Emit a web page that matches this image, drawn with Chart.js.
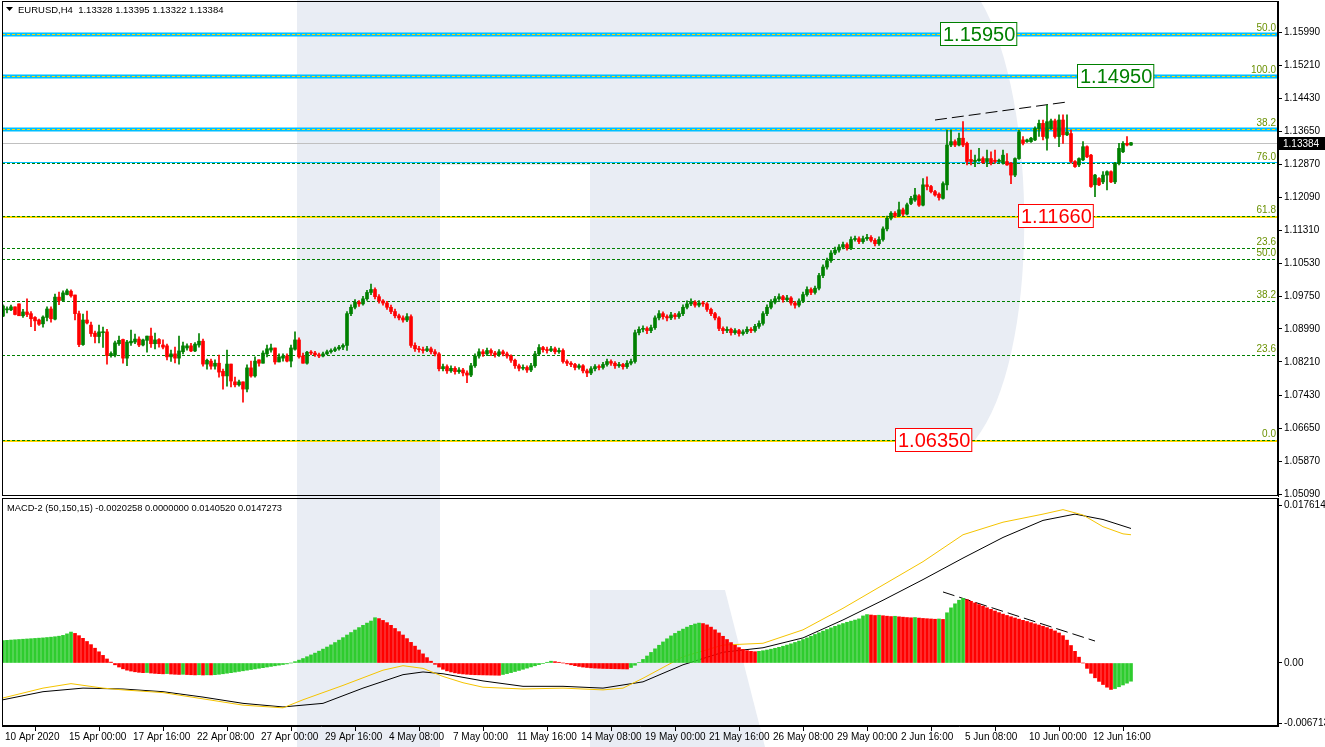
<!DOCTYPE html>
<html>
<head>
<meta charset="utf-8">
<script src="https://cdn.jsdelivr.net/npm/chart.js@4.4.1/dist/chart.umd.min.js"></script>
<style>
  body { margin: 0; background: #fff; width: 1325px; height: 747px; overflow: hidden; position: relative; }
  #main { position: absolute; left: 0; top: 0; }
  #macd { position: absolute; left: 0; top: 497px; }
</style>
</head>
<body>
<canvas id="main" width="1325" height="497"></canvas>
<canvas id="macd" width="1325" height="250"></canvas>
<script>
// EURUSD H4 candles, [open, high, low, close], one per bar
const ohlc = [
  [1.0929,1.0956,1.0928,1.0953],[1.0944,1.0951,1.0937,1.0946],[1.0944,1.0955,1.0942,1.0951],[1.0951,1.0951,1.0932,1.0933],
  [1.0958,1.0958,1.0930,1.0930],[1.0930,1.0945,1.0926,1.0939],[1.0939,1.0970,1.0928,1.0933],[1.0935,1.0940,1.0904,1.0923],
  [1.0926,1.0928,1.0895,1.0918],[1.0920,1.0922,1.0907,1.0910],[1.0911,1.0930,1.0903,1.0927],[1.0926,1.0951,1.0918,1.0946],
  [1.0946,1.0951,1.0915,1.0923],[1.0922,1.0981,1.0920,1.0974],[1.0974,1.0986,1.0956,1.0966],[1.0966,1.0989,1.0966,1.0984],
  [1.0980,1.0993,1.0979,1.0989],[1.0988,1.0991,1.0974,1.0977],[1.0979,1.0979,1.0920,1.0935],[1.0935,1.0941,1.0857,1.0862],
  [1.0862,1.0934,1.0860,1.0920],[1.0920,1.0941,1.0911,1.0913],[1.0908,1.0915,1.0881,1.0888],[1.0889,1.0894,1.0866,1.0881],
  [1.0881,1.0908,1.0866,1.0892],[1.0890,1.0903,1.0855,1.0892],[1.0892,1.0898,1.0816,1.0836],[1.0836,1.0845,1.0832,1.0841],
  [1.0837,1.0870,1.0833,1.0866],[1.0864,1.0882,1.0860,1.0872],[1.0874,1.0875,1.0818,1.0830],[1.0830,1.0872,1.0812,1.0868],
  [1.0866,1.0896,1.0860,1.0870],[1.0868,1.0887,1.0864,1.0875],[1.0875,1.0880,1.0857,1.0861],[1.0861,1.0875,1.0859,1.0873],
  [1.0872,1.0882,1.0844,1.0882],[1.0882,1.0901,1.0855,1.0864],[1.0864,1.0889,1.0852,1.0873],[1.0874,1.0876,1.0856,1.0864],
  [1.0861,1.0873,1.0852,1.0856],[1.0859,1.0863,1.0826,1.0833],[1.0833,1.0849,1.0822,1.0840],[1.0840,1.0856,1.0819,1.0830],
  [1.0830,1.0882,1.0816,1.0847],[1.0845,1.0868,1.0840,1.0859],[1.0854,1.0864,1.0849,1.0859],[1.0859,1.0865,1.0845,1.0847],
  [1.0847,1.0867,1.0845,1.0863],[1.0861,1.0888,1.0856,1.0870],[1.0870,1.0875,1.0811,1.0816],[1.0816,1.0828,1.0804,1.0825],
  [1.0823,1.0828,1.0804,1.0811],[1.0811,1.0826,1.0804,1.0818],[1.0818,1.0837,1.0785,1.0797],[1.0799,1.0804,1.0757,1.0788],
  [1.0788,1.0849,1.0764,1.0816],[1.0816,1.0816,1.0762,1.0776],[1.0774,1.0785,1.0762,1.0767],[1.0767,1.0778,1.0764,1.0774],
  [1.0774,1.0774,1.0726,1.0757],[1.0757,1.0814,1.0750,1.0807],[1.0807,1.0823,1.0785,1.0788],[1.0788,1.0833,1.0785,1.0823],
  [1.0826,1.0826,1.0811,1.0818],[1.0818,1.0847,1.0818,1.0842],[1.0840,1.0861,1.0833,1.0852],[1.0849,1.0863,1.0844,1.0854],
  [1.0854,1.0854,1.0816,1.0821],[1.0821,1.0840,1.0821,1.0833],[1.0830,1.0840,1.0823,1.0835],[1.0835,1.0840,1.0821,1.0823],
  [1.0823,1.0861,1.0809,1.0854],[1.0851,1.0892,1.0849,1.0873],[1.0873,1.0878,1.0830,1.0833],[1.0835,1.0842,1.0818,1.0818],
  [1.0818,1.0846,1.0816,1.0844],[1.0844,1.0848,1.0838,1.0842],[1.0842,1.0846,1.0834,1.0838],[1.0838,1.0842,1.0831,1.0835],
  [1.0835,1.0844,1.0833,1.0840],[1.0840,1.0849,1.0838,1.0845],[1.0845,1.0852,1.0842,1.0848],[1.0848,1.0856,1.0845,1.0852],
  [1.0852,1.0860,1.0849,1.0856],[1.0856,1.0864,1.0850,1.0860],[1.0860,1.0940,1.0848,1.0935],[1.0935,1.0956,1.0930,1.0950],
  [1.0950,1.0968,1.0946,1.0962],[1.0962,1.0966,1.0952,1.0958],[1.0958,1.0976,1.0955,1.0970],[1.0970,1.0990,1.0966,1.0985],
  [1.0985,1.1005,1.0980,1.0992],[1.0992,1.0996,1.0970,1.0975],[1.0975,1.0980,1.0960,1.0965],[1.0965,1.0968,1.0955,1.0960],
  [1.0960,1.0964,1.0945,1.0950],[1.0950,1.0955,1.0935,1.0940],[1.0940,1.0946,1.0925,1.0930],[1.0930,1.0934,1.0920,1.0925],
  [1.0925,1.0930,1.0915,1.0920],[1.0920,1.0935,1.0916,1.0928],[1.0928,1.0932,1.0855,1.0860],[1.0860,1.0866,1.0846,1.0852],
  [1.0852,1.0858,1.0844,1.0850],[1.0850,1.0856,1.0842,1.0848],[1.0848,1.0858,1.0845,1.0852],[1.0852,1.0856,1.0840,1.0845],
  [1.0845,1.0850,1.0835,1.0840],[1.0840,1.0843,1.0800,1.0805],[1.0805,1.0816,1.0800,1.0810],[1.0810,1.0814,1.0794,1.0800],
  [1.0800,1.0812,1.0796,1.0806],[1.0806,1.0810,1.0792,1.0798],[1.0798,1.0808,1.0794,1.0802],[1.0802,1.0806,1.0788,1.0795],
  [1.0795,1.0800,1.0772,1.0790],[1.0790,1.0818,1.0786,1.0812],[1.0812,1.0840,1.0808,1.0835],[1.0835,1.0852,1.0830,1.0845],
  [1.0845,1.0850,1.0834,1.0840],[1.0840,1.0854,1.0836,1.0848],[1.0848,1.0852,1.0836,1.0842],[1.0842,1.0846,1.0832,1.0838],
  [1.0838,1.0850,1.0834,1.0845],[1.0845,1.0849,1.0835,1.0840],[1.0840,1.0844,1.0830,1.0835],[1.0835,1.0838,1.0820,1.0825],
  [1.0825,1.0828,1.0806,1.0812],[1.0812,1.0816,1.0800,1.0806],[1.0806,1.0814,1.0802,1.0808],[1.0808,1.0812,1.0796,1.0802],
  [1.0802,1.0818,1.0798,1.0812],[1.0812,1.0846,1.0808,1.0840],[1.0840,1.0862,1.0836,1.0855],[1.0855,1.0858,1.0844,1.0850],
  [1.0850,1.0856,1.0842,1.0848],[1.0848,1.0858,1.0845,1.0852],[1.0852,1.0856,1.0840,1.0845],[1.0845,1.0854,1.0841,1.0848],
  [1.0848,1.0852,1.0818,1.0822],[1.0822,1.0826,1.0812,1.0818],[1.0818,1.0822,1.0810,1.0815],[1.0815,1.0818,1.0802,1.0808],
  [1.0808,1.0816,1.0804,1.0812],[1.0812,1.0815,1.0795,1.0800],[1.0800,1.0804,1.0786,1.0795],[1.0795,1.0810,1.0791,1.0805],
  [1.0805,1.0815,1.0800,1.0810],[1.0810,1.0814,1.0802,1.0808],[1.0808,1.0820,1.0804,1.0815],[1.0815,1.0828,1.0811,1.0822],
  [1.0822,1.0826,1.0813,1.0818],[1.0818,1.0822,1.0806,1.0812],[1.0812,1.0820,1.0808,1.0815],[1.0815,1.0818,1.0804,1.0810],
  [1.0810,1.0824,1.0806,1.0818],[1.0818,1.0828,1.0814,1.0822],[1.0822,1.0896,1.0818,1.0890],[1.0890,1.0904,1.0885,1.0898],
  [1.0898,1.0906,1.0892,1.0900],[1.0900,1.0904,1.0888,1.0895],[1.0895,1.0908,1.0890,1.0902],[1.0902,1.0930,1.0898,1.0925],
  [1.0925,1.0942,1.0920,1.0935],[1.0935,1.0939,1.0922,1.0928],[1.0928,1.0932,1.0918,1.0925],[1.0925,1.0938,1.0921,1.0932],
  [1.0932,1.0936,1.0922,1.0928],[1.0928,1.0940,1.0924,1.0935],[1.0935,1.0956,1.0930,1.0950],[1.0950,1.0965,1.0946,1.0958],
  [1.0958,1.0970,1.0954,1.0962],[1.0962,1.0966,1.0950,1.0955],[1.0955,1.0966,1.0951,1.0960],[1.0960,1.0964,1.0952,1.0958],
  [1.0958,1.0961,1.0940,1.0945],[1.0945,1.0948,1.0930,1.0935],[1.0935,1.0938,1.0920,1.0925],[1.0925,1.0928,1.0895,1.0900],
  [1.0900,1.0904,1.0888,1.0895],[1.0895,1.0904,1.0890,1.0898],[1.0898,1.0901,1.0884,1.0890],[1.0890,1.0900,1.0886,1.0895],
  [1.0895,1.0898,1.0882,1.0888],[1.0888,1.0897,1.0884,1.0892],[1.0892,1.0904,1.0888,1.0898],[1.0898,1.0902,1.0890,1.0895],
  [1.0895,1.0910,1.0891,1.0905],[1.0905,1.0918,1.0900,1.0912],[1.0912,1.0940,1.0908,1.0935],[1.0935,1.0956,1.0930,1.0950],
  [1.0950,1.0968,1.0946,1.0962],[1.0962,1.0976,1.0958,1.0970],[1.0970,1.0982,1.0966,1.0975],[1.0975,1.0978,1.0962,1.0968],
  [1.0968,1.0978,1.0964,1.0972],[1.0972,1.0975,1.0955,1.0960],[1.0960,1.0964,1.0948,1.0955],[1.0955,1.0970,1.0951,1.0965],
  [1.0965,1.0986,1.0961,1.0980],[1.0980,1.0998,1.0976,1.0992],[1.0992,1.0996,1.0980,1.0985],[1.0985,1.1000,1.0981,1.0995],
  [1.0995,1.1030,1.0991,1.1025],[1.1025,1.1050,1.1020,1.1045],[1.1045,1.1066,1.1040,1.1060],[1.1060,1.1084,1.1056,1.1078],
  [1.1078,1.1092,1.1074,1.1085],[1.1085,1.1098,1.1080,1.1092],[1.1092,1.1104,1.1088,1.1098],[1.1098,1.1102,1.1085,1.1090],
  [1.1090,1.1116,1.1086,1.1110],[1.1110,1.1118,1.1106,1.1112],[1.1112,1.1116,1.1100,1.1105],[1.1105,1.1118,1.1101,1.1112],
  [1.1112,1.1122,1.1108,1.1115],[1.1115,1.1119,1.1104,1.1108],[1.1108,1.1112,1.1095,1.1100],[1.1100,1.1116,1.1096,1.1110],
  [1.1110,1.1140,1.1106,1.1135],[1.1135,1.1165,1.1130,1.1160],[1.1160,1.1176,1.1156,1.1172],[1.1172,1.1176,1.1162,1.1166],
  [1.1166,1.1198,1.1164,1.1180],[1.1180,1.1184,1.1166,1.1170],[1.1170,1.1196,1.1168,1.1192],[1.1195,1.1212,1.1192,1.1207],
  [1.1203,1.1231,1.1200,1.1215],[1.1213,1.1216,1.1188,1.1191],[1.1191,1.1254,1.1189,1.1239],[1.1239,1.1258,1.1227,1.1235],
  [1.1235,1.1238,1.1220,1.1223],[1.1223,1.1226,1.1212,1.1215],[1.1217,1.1220,1.1203,1.1209],[1.1207,1.1246,1.1205,1.1242],
  [1.1239,1.1368,1.1227,1.1333],[1.1333,1.1368,1.1329,1.1341],[1.1341,1.1345,1.1329,1.1333],[1.1333,1.1361,1.1331,1.1349],
  [1.1349,1.1388,1.1329,1.1333],[1.1337,1.1340,1.1286,1.1294],[1.1299,1.1321,1.1286,1.1294],[1.1294,1.1309,1.1282,1.1297],
  [1.1296,1.1325,1.1294,1.1300],[1.1301,1.1305,1.1290,1.1291],[1.1294,1.1321,1.1282,1.1301],[1.1301,1.1317,1.1286,1.1291],
  [1.1297,1.1321,1.1290,1.1294],[1.1294,1.1300,1.1292,1.1297],[1.1290,1.1321,1.1288,1.1309],[1.1294,1.1313,1.1285,1.1286],
  [1.1290,1.1292,1.1242,1.1262],[1.1262,1.1303,1.1258,1.1301],[1.1301,1.1368,1.1299,1.1364],[1.1345,1.1353,1.1333,1.1337],
  [1.1341,1.1347,1.1339,1.1345],[1.1341,1.1351,1.1339,1.1349],[1.1345,1.1376,1.1343,1.1372],[1.1372,1.1392,1.1353,1.1384],
  [1.1384,1.1392,1.1345,1.1353],[1.1349,1.1427,1.1321,1.1388],[1.1372,1.1394,1.1370,1.1390],[1.1390,1.1394,1.1349,1.1353],
  [1.1353,1.1404,1.1329,1.1392],[1.1392,1.1404,1.1337,1.1357],[1.1357,1.1404,1.1355,1.1364],[1.1360,1.1368,1.1290,1.1294],
  [1.1294,1.1296,1.1280,1.1282],[1.1286,1.1303,1.1282,1.1301],[1.1298,1.1341,1.1296,1.1329],[1.1329,1.1331,1.1303,1.1305],
  [1.1309,1.1311,1.1233,1.1235],[1.1239,1.1264,1.1211,1.1262],[1.1254,1.1256,1.1237,1.1239],[1.1246,1.1270,1.1242,1.1262],
  [1.1262,1.1272,1.1227,1.1270],[1.1270,1.1272,1.1244,1.1246],[1.1246,1.1292,1.1242,1.1290],[1.1290,1.1337,1.1286,1.1325],
  [1.1317,1.1341,1.1315,1.1337],[1.1337,1.1353,1.1331,1.1333],[1.13328,1.13395,1.13322,1.13384]
];

// MACD-2 histogram, one value per bar
const histValues = [
  0.00250,0.00253,0.00256,0.00259,0.00262,0.00265,0.00268,0.00271,0.00274,0.00277,
  0.00280,0.00284,0.00288,0.00293,0.00299,0.00308,0.00325,0.00345,
  0.00330,0.00305,0.00275,0.00240,0.00205,0.00165,0.00125,0.00085,0.00045,0.00010,-0.00020,-0.00045,-0.00065,
  -0.00080,-0.00090,-0.00098,-0.00104,-0.00108,-0.00106,-0.00112,-0.00116,-0.00119,-0.00121,
  -0.00118,-0.00123,-0.00126,-0.00128,-0.00126,-0.00129,-0.00131,-0.00133,-0.00131,-0.00134,
  -0.00132,-0.00133,-0.00130,-0.00126,-0.00120,
  -0.00114,-0.00108,-0.00101,-0.00094,-0.00087,-0.00080,-0.00073,-0.00066,-0.00059,-0.00052,
  -0.00045,-0.00038,-0.00031,-0.00024,-0.00017,-0.00010,
  0.00000,0.00015,0.00032,0.00050,0.00070,0.00090,0.00110,0.00132,0.00155,0.00178,
  0.00202,0.00228,0.00255,0.00283,0.00312,0.00340,0.00368,0.00395,0.00420,0.00445,0.00468,0.00505,
  0.00495,0.00475,0.00450,0.00420,0.00385,0.00350,0.00312,0.00272,0.00230,0.00188,
  0.00145,0.00102,0.00060,0.00020,-0.00015,-0.00045,-0.00070,-0.00088,-0.00100,-0.00110,
  -0.00117,-0.00122,-0.00126,-0.00129,-0.00131,-0.00132,-0.00133,-0.00134,-0.00135,-0.00136,-0.00137,
  -0.00128,-0.00118,-0.00107,-0.00095,-0.00083,-0.00070,-0.00057,-0.00044,-0.00031,-0.00018,-0.00005,0.00008,0.00020,
  0.00015,0.00008,0.00000,-0.00010,-0.00020,-0.00030,-0.00038,-0.00045,-0.00050,-0.00054,
  -0.00057,-0.00059,-0.00061,-0.00062,-0.00063,-0.00064,-0.00065,-0.00066,-0.00067,
  -0.00050,-0.00025,0.00005,0.00040,0.00078,0.00118,0.00158,0.00198,0.00235,0.00270,
  0.00302,0.00330,0.00355,0.00378,0.00400,0.00420,0.00435,0.00445,
  0.00440,0.00425,0.00400,0.00370,0.00335,0.00298,0.00262,0.00228,0.00198,0.00172,0.00152,0.00138,0.00130,0.00126,
  0.00130,0.00137,0.00145,0.00154,0.00164,0.00175,0.00187,0.00200,0.00214,0.00229,
  0.00245,0.00262,0.00280,0.00299,0.00318,0.00337,0.00356,0.00374,0.00392,0.00409,
  0.00425,0.00440,0.00454,0.00467,0.00479,0.00492,0.00525,0.00540,
  0.00535,0.00530,0.00533,0.00527,0.00522,0.00518,0.00521,0.00515,0.00511,0.00507,
  0.00504,0.00507,0.00501,0.00497,0.00494,0.00491,0.00488,0.00491,0.00486,
  0.00560,0.00615,0.00660,0.00700,0.00720,
  0.00705,0.00688,0.00670,0.00652,0.00634,0.00616,0.00598,0.00580,0.00562,0.00545,
  0.00530,0.00516,0.00502,0.00489,0.00476,0.00463,0.00450,0.00437,0.00424,0.00410,
  0.00395,0.00378,0.00358,0.00335,0.00305,0.00255,0.00195,0.00130,0.00065,0.00000,
  -0.00060,-0.00115,-0.00165,-0.00205,-0.00240,-0.00270,-0.00295,
  -0.00285,-0.00265,-0.00245,-0.00225,-0.00203
];

// MACD-2 lines, [bar, value]
const macdLine = [[0,-0.0041],[10,-0.0032],[20,-0.0028],[30,-0.0029],[40,-0.0032],[50,-0.0038],[60,-0.0045],[70,-0.0049],
  [80,-0.0045],[90,-0.0028],[100,-0.0013],[105,-0.0010],[110,-0.0012],[120,-0.0020],[130,-0.0026],[140,-0.0026],[150,-0.0028],
  [160,-0.0021],[170,-0.0002],[180,0.0012],[190,0.0017],[200,0.0028],[210,0.0048],[220,0.0070],[230,0.0093],[240,0.0117],
  [250,0.0140],[260,0.0159],[268,0.0166],[275,0.0160],[282,0.0150]];
const signalLine = [[0,-0.0039],[10,-0.0028],[17,-0.0023],[25,-0.0028],[30,-0.0030],[40,-0.0033],[50,-0.0040],[60,-0.0047],
  [70,-0.0050],[75,-0.0041],[85,-0.0025],[95,-0.0008],[100,-0.0003],[105,-0.0006],[110,-0.0015],[115,-0.0022],[120,-0.0027],
  [130,-0.0029],[140,-0.0028],[150,-0.0030],[155,-0.0028],[160,-0.0017],[170,0.0007],[180,0.0020],[190,0.0022],[200,0.0037],
  [210,0.0061],[220,0.0087],[230,0.0113],[240,0.0143],[250,0.0157],[260,0.0166],[265,0.0171],[270,0.0165],[275,0.0152],
  [280,0.0144],[282,0.0143]];

// time axis
const tickBars = [0,16,32,48,64,80,96,112,128,144,160,176,192,208,224,240,256,272];
const tickLabels = ['10 Apr 2020','15 Apr 00:00','17 Apr 16:00','22 Apr 08:00','27 Apr 00:00','29 Apr 16:00',
  '4 May 08:00','7 May 00:00','11 May 16:00','14 May 08:00','19 May 00:00','21 May 16:00','26 May 08:00',
  '29 May 00:00','2 Jun 16:00','5 Jun 08:00','10 Jun 00:00','12 Jun 16:00'];

// price axis
const priceTicks = [1.15990,1.15210,1.14430,1.13650,1.12870,1.12090,1.11310,1.10530,1.09750,1.08990,1.08210,1.07430,1.06650,1.05870,1.05090];
const macdTicks = [0.017614, 0, -0.006713];
const macdTickLabels = ['0.017614', '0.00', '-0.006713'];

// fibonacci levels and horizontal lines
const fibValues = [1.1595, 1.1495, 1.1370, 1.1290, 1.1166, 1.1090, 1.1065, 1.0964, 1.0838, 1.0636];
const fibNames  = ['50.0', '100.0', '38.2', '76.0', '61.8', '23.6', '50.0', '38.2', '23.6', '0.0'];
const blueLevels = [1.1595, 1.1495, 1.1370];
const thinBlueLevels = [1.1290];
const yellowLevels = [1.1166, 1.0636];
const boxValues = [1.1595, 1.1495, 1.1166, 1.0636];
const boxTexts = ['1.15950', '1.14950', '1.11660', '1.06350'];
const boxBars = [234.25, 268.5, 253.75, 223];
const priceTrend = [[233, 1.1392], [266, 1.14345]];
const macdTrend = [[235, 0.00792], [273, 0.00245]];
const lastPrice = 1.13384;

const UP = '#008000', DOWN = '#ff0000';
const HIST_UP = '#2ecc2e', HIST_DOWN = '#ff0000';
const FONT = '"Liberation Sans", Arial, sans-serif';

Chart.defaults.font.family = FONT;
Chart.defaults.font.size = 10;
Chart.defaults.color = '#000';

const candleColors = ohlc.map(d => d[3] >= d[0] ? UP : DOWN);
const histColors = histValues.map((v, i) => (i > 0 && v < histValues[i - 1]) ? HIST_DOWN : HIST_UP);

// light "R" logo behind both panels, page coordinates
function drawLogo(ctx, offsetY) {
  ctx.save();
  ctx.translate(0, -offsetY);
  ctx.fillStyle = '#e9edf4';
  ctx.fillRect(297, 0, 143, 747);
  ctx.beginPath();
  ctx.moveTo(440, 0);
  ctx.lineTo(980, 0);
  ctx.bezierCurveTo(1040, 100, 1040, 360, 975, 440);
  ctx.lineTo(590, 440);
  ctx.lineTo(590, 165);
  ctx.lineTo(440, 165);
  ctx.closePath();
  ctx.fill();
  ctx.beginPath();
  ctx.moveTo(590, 590);
  ctx.lineTo(725, 590);
  ctx.lineTo(765, 747);
  ctx.lineTo(590, 747);
  ctx.closePath();
  ctx.fill();
  ctx.restore();
}

function drawFrame(chart) {
  const { ctx, chartArea: a } = chart;
  ctx.save();
  ctx.strokeStyle = '#000';
  ctx.lineWidth = 1;
  ctx.strokeRect(a.left + 0.5, a.top + 0.5, a.right - a.left - 1, a.bottom - a.top - 1);
  ctx.restore();
}

// keep the plot area glued to the panel edges
function noPad(s) {
  s.paddingTop = 0;
  s.paddingBottom = 0;
  s.paddingLeft = 0;
  s.paddingRight = 0;
}

const mainDecor = {
  id: 'mainDecor',
  beforeDraw(chart) {
    const ctx = chart.ctx;
    ctx.save();
    ctx.fillStyle = '#fff';
    ctx.fillRect(0, 0, chart.width, chart.height);
    ctx.restore();
    drawLogo(ctx, 0);
  },
  beforeDatasetsDraw(chart) {
    const { ctx, chartArea: a, scales: { y } } = chart;
    const row = v => Math.round(y.getPixelForValue(v));
    const line = (yy, color, width, dash) => {
      ctx.beginPath();
      ctx.strokeStyle = color;
      ctx.lineWidth = width;
      ctx.setLineDash(dash || []);
      ctx.moveTo(a.left, yy);
      ctx.lineTo(a.right, yy);
      ctx.stroke();
    };
    ctx.save();
    ctx.beginPath();
    ctx.rect(a.left, a.top, a.right - a.left, a.bottom - a.top);
    ctx.clip();
    blueLevels.forEach(v => line(row(v) + 0.5, '#00bfff', 4));
    thinBlueLevels.forEach(v => line(row(v) - 0.5, '#00bfff', 1));
    yellowLevels.forEach(v => line(row(v) + 1, '#ffd700', 2));
    fibValues.forEach((v, i) => line(row(v) + 0.5, i < 3 ? '#ffd700' : '#008000', 1, [3, 2]));
    line(row(lastPrice) + 0.5, '#c0c0c0', 1);
    ctx.restore();
  },
  afterDraw(chart) {
    const { ctx, chartArea: a, scales: { x, y } } = chart;
    drawFrame(chart);
    ctx.save();
    // fibo level names
    ctx.font = '10px ' + FONT;
    ctx.fillStyle = '#6a9000';
    ctx.textAlign = 'right';
    ctx.textBaseline = 'bottom';
    fibValues.forEach((v, i) => ctx.fillText(fibNames[i], a.right - 2, Math.round(y.getPixelForValue(v)) - 1));
    // price boxes
    ctx.font = '20px ' + FONT;
    ctx.textAlign = 'left';
    ctx.textBaseline = 'middle';
    boxValues.forEach((v, i) => {
      const color = i < 2 ? '#008000' : '#ff0000';
      const bx = Math.round(x.getPixelForValue(boxBars[i])) + 0.5;
      const by = Math.round(y.getPixelForValue(v));
      const w = ctx.measureText(boxTexts[i]).width + 4;
      ctx.fillStyle = '#fff';
      ctx.fillRect(bx, by - 11.5, w, 23);
      ctx.strokeStyle = color;
      ctx.lineWidth = 1;
      ctx.strokeRect(bx, by - 11.5, w, 23);
      ctx.fillStyle = color;
      ctx.fillText(boxTexts[i], bx + 2.5, by + 1);
    });
    // current price tag
    const ly = Math.round(y.getPixelForValue(lastPrice));
    ctx.fillStyle = '#000';
    ctx.fillRect(a.right + 1, ly - 6, chart.width - a.right - 1, 13);
    ctx.fillStyle = '#fff';
    ctx.font = '10px ' + FONT;
    ctx.fillText('1.13384', a.right + 5, ly + 1);
    // title
    ctx.fillStyle = '#000';
    ctx.beginPath();
    ctx.moveTo(6, 7); ctx.lineTo(13, 7); ctx.lineTo(9.5, 11); ctx.closePath();
    ctx.fill();
    ctx.font = '9.5px ' + FONT;
    ctx.fillText('EURUSD,H4  1.13328 1.13395 1.13322 1.13384', 18, 10);
    ctx.restore();
  }
};

const macdDecor = {
  id: 'macdDecor',
  beforeDraw(chart) {
    const ctx = chart.ctx;
    ctx.save();
    ctx.fillStyle = '#fff';
    ctx.fillRect(0, 0, chart.width, chart.height);
    ctx.restore();
    drawLogo(ctx, 497);
  },
  afterDraw(chart) {
    const ctx = chart.ctx;
    drawFrame(chart);
    ctx.save();
    ctx.fillStyle = '#000';
    ctx.font = '9.3px ' + FONT;
    ctx.textBaseline = 'middle';
    ctx.fillText('MACD-2 (50,150,15) -0.0020258 0.0000000 0.0140520 0.0147273', 7, 11);
    ctx.restore();
  }
};

const xRange = { min: -0.25, max: 318.75 };

new Chart(document.getElementById('main'), {
  type: 'bar',
  data: {
    datasets: [
      {
        label: 'wick',
        data: ohlc.map((d, i) => ({ x: i, y: [d[2], d[1]] })),
        backgroundColor: candleColors,
        barThickness: 1,
        grouped: false
      },
      {
        label: 'body',
        data: ohlc.map((d, i) => ({ x: i, y: [d[0], d[3]] })),
        backgroundColor: candleColors,
        barThickness: 3,
        minBarLength: 1,
        grouped: false
      },
      {
        type: 'line',
        label: 'trend',
        data: priceTrend.map(p => ({ x: p[0], y: p[1] })),
        borderColor: '#000',
        borderWidth: 1,
        borderDash: [12, 5],
        pointRadius: 0
      }
    ]
  },
  options: {
    responsive: false,
    animation: false,
    events: [],
    layout: { padding: { left: 2, top: 1, bottom: 1, right: 0 } },
    plugins: { legend: { display: false }, tooltip: { enabled: false } },
    scales: {
      x: { type: 'linear', min: xRange.min, max: xRange.max, offset: false, display: false },
      y: {
        type: 'linear',
        position: 'right',
        min: 1.050464,
        max: 1.167284,
        afterBuildTicks: s => { s.ticks = priceTicks.map(v => ({ value: v })); },
        afterFit: s => { s.width = 47; noPad(s); },
        ticks: { callback: v => v.toFixed(5), padding: 2, font: { size: 10 } },
        grid: { drawOnChartArea: false, tickLength: 4, color: '#000' },
        border: { display: true, color: '#000' }
      }
    }
  },
  plugins: [mainDecor]
});

new Chart(document.getElementById('macd'), {
  type: 'bar',
  data: {
    datasets: [
      {
        label: 'hist',
        data: histValues.map((v, i) => ({ x: i, y: v })),
        backgroundColor: histColors,
        barThickness: 3,
        grouped: false
      },
      {
        type: 'line',
        label: 'signal',
        data: signalLine.map(p => ({ x: p[0], y: p[1] })),
        borderColor: '#f5c400',
        borderWidth: 1,
        pointRadius: 0
      },
      {
        type: 'line',
        label: 'macd',
        data: macdLine.map(p => ({ x: p[0], y: p[1] })),
        borderColor: '#000',
        borderWidth: 1,
        pointRadius: 0
      },
      {
        type: 'line',
        label: 'trend',
        data: macdTrend.map(p => ({ x: p[0], y: p[1] })),
        borderColor: '#000',
        borderWidth: 1,
        borderDash: [12, 5],
        pointRadius: 0
      }
    ]
  },
  options: {
    responsive: false,
    animation: false,
    events: [],
    layout: { padding: { left: 2, top: 1, bottom: 0, right: 0 } },
    plugins: { legend: { display: false }, tooltip: { enabled: false } },
    scales: {
      x: {
        type: 'linear',
        min: xRange.min,
        max: xRange.max,
        offset: false,
        afterBuildTicks: s => { s.ticks = tickBars.map(v => ({ value: v })); },
        afterFit: s => { s.height = 21; noPad(s); },
        ticks: {
          autoSkip: false,
          maxRotation: 0,
          align: 'start',
          labelOffset: 2,
          padding: 0,
          callback: v => tickLabels[tickBars.indexOf(v)]
        },
        grid: { drawOnChartArea: false, tickLength: 5, color: '#000' },
        border: { display: true, color: '#000' }
      },
      y: {
        type: 'linear',
        position: 'right',
        min: -0.0070245,
        max: 0.0183975,
        afterBuildTicks: s => { s.ticks = macdTicks.map(v => ({ value: v })); },
        afterFit: s => { s.width = 47; noPad(s); },
        ticks: { callback: v => macdTickLabels[macdTicks.indexOf(v)], padding: 2 },
        grid: { drawOnChartArea: false, tickLength: 4, color: '#000' },
        border: { display: true, color: '#000' }
      }
    }
  },
  plugins: [macdDecor]
});
</script>
</body>
</html>
